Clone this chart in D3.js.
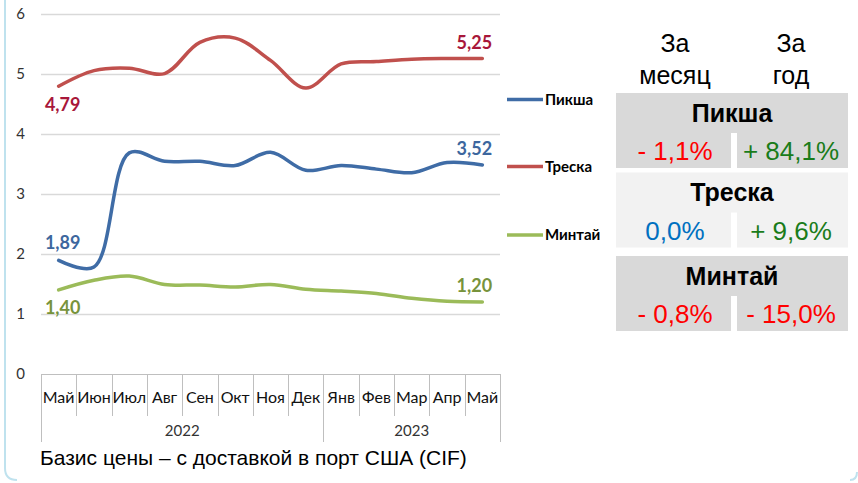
<!DOCTYPE html>
<html>
<head>
<meta charset="utf-8">
<script src="https://cdn.jsdelivr.net/npm/d3@7"></script>
<style>
body { margin: 0; background: #fff; }
svg { display: block; }
</style>
</head>
<body>
<div class="chart"></div>
<script>
// months on the x axis, grouped by year
var months = ["Май","Июн","Июл","Авг","Сен","Окт","Ноя","Дек","Янв","Фев","Мар","Апр","Май"];
var years = ["2022", "2023"];
var yearStart = [0, 8];
var yTicks = [0, 1, 2, 3, 4, 5, 6];

// prices, USD per kg
var seriesNames = ["Пикша", "Треска", "Минтай"];
var haddock = [1.89, 1.78, 3.68, 3.54, 3.54, 3.47, 3.69, 3.39, 3.47, 3.41, 3.35, 3.52, 3.48];
var cod     = [4.79, 5.05, 5.09, 5.00, 5.52, 5.59, 5.22, 4.76, 5.16, 5.20, 5.24, 5.25, 5.25];
var pollock = [1.40, 1.56, 1.63, 1.49, 1.48, 1.45, 1.49, 1.41, 1.38, 1.34, 1.26, 1.21, 1.20];
var startLabels = [1.89, 4.79, 1.40];
var endLabels = [3.52, 5.25, 1.20];

// change table, percent
var monthChange = [-1.1, 0.0, -0.8];
var yearChange = [84.1, 9.6, -15.0];

var width = 858, height = 483;
var lineColors = ["#3f6ca6", "#c0504d", "#9bbb59"];
var labelColors = ["#3d679e", "#a8173a", "#77933c"];
var labelSide = [[-1, -1], [1, -1], [1, -1]]; // start / end: -1 above, 1 below

var svg = d3.select(".chart").append("svg")
	.attr("width", width)
	.attr("height", height);

// frame remnants
svg.append("path")
	.attr("d", "M5,0 L5,468 Q5,480 17,480")
	.attr("fill", "none")
	.attr("stroke", "#bfe2ee")
	.attr("stroke-width", 2);
svg.append("path")
	.attr("d", "M857,472 Q857,480 850,480")
	.attr("fill", "none")
	.attr("stroke", "#bfe2ee")
	.attr("stroke-width", 2);

var x = d3.scaleBand().domain(d3.range(months.length)).range([41, 500]);
var y = d3.scaleLinear().domain([0, 6]).range([374, 13.5]);
var cx = function(i) { return x(i) + x.bandwidth() / 2; };

// gridlines
svg.append("g").selectAll("line")
	.data(yTicks.filter(function(d) { return d > 0; }))
	.enter().append("line")
	.attr("x1", 41).attr("x2", 500)
	.attr("y1", function(d) { return Math.round(y(d)) + 0.5; })
	.attr("y2", function(d) { return Math.round(y(d)) + 0.5; })
	.attr("stroke", "#d9d9d9")
	.attr("stroke-width", 1.3);

// y axis labels
var yAxis = svg.append("g")
	.attr("transform", "translate(41,0)")
	.call(d3.axisLeft(y).tickValues(yTicks).tickSize(0).tickPadding(16).tickFormat(d3.format("d")));
yAxis.select(".domain").remove();
yAxis.selectAll("text")
	.attr("font-family", "Lato, sans-serif")
	.attr("font-size", "15px")
	.attr("fill", "#333");

// x axis: base line, separators, month and year labels
var xg = svg.append("g").attr("class", "xaxis");
xg.append("line")
	.attr("x1", 41).attr("x2", 500)
	.attr("y1", 374.5).attr("y2", 374.5)
	.attr("stroke", "#bfbfbf");
var bounds = d3.range(months.length + 1);
xg.selectAll("line.sep")
	.data(bounds)
	.enter().append("line")
	.attr("class", "sep")
	.attr("x1", function(i) { return Math.round(i < months.length ? x(i) : x.range()[1]) + 0.5; })
	.attr("x2", function(i) { return Math.round(i < months.length ? x(i) : x.range()[1]) + 0.5; })
	.attr("y1", 374)
	.attr("y2", function(i) { return (yearStart.indexOf(i) >= 0 || i === months.length) ? 442 : 416; })
	.attr("stroke", "#bfbfbf");
xg.selectAll("text.month")
	.data(months)
	.enter().append("text")
	.attr("class", "month")
	.attr("x", function(d, i) { return cx(i); })
	.attr("y", 397.5)
	.attr("dy", "0.35em")
	.attr("text-anchor", "middle")
	.attr("font-family", "Lato, sans-serif")
	.attr("font-size", "16px")
	.attr("fill", "#111")
	.text(function(d) { return d; });
xg.selectAll("text.year")
	.data(years)
	.enter().append("text")
	.attr("class", "year")
	.attr("x", function(d, i) {
		var a = x(yearStart[i]);
		var b = i + 1 < yearStart.length ? x(yearStart[i + 1]) : x.range()[1];
		return (a + b) / 2;
	})
	.attr("y", 430.5)
	.attr("dy", "0.35em")
	.attr("text-anchor", "middle")
	.attr("font-family", "Lato, sans-serif")
	.attr("font-size", "15px")
	.attr("fill", "#333")
	.text(function(d) { return d; });

// lines
var series = [haddock, cod, pollock];
var line = d3.line()
	.x(function(d, i) { return cx(i); })
	.y(function(d) { return y(d); })
	.curve(d3.curveCatmullRom.alpha(0.5));

svg.append("g").selectAll("path")
	.data(series)
	.enter().append("path")
	.attr("d", line)
	.attr("fill", "none")
	.attr("stroke", function(d, i) { return lineColors[i]; })
	.attr("stroke-width", 3.5)
	.attr("stroke-linecap", "round");

// data labels
var fmt = function(v) { return d3.format(".2f")(v).replace(".", ","); };
var labels = svg.append("g")
	.attr("font-family", "Lato, sans-serif")
	.attr("font-weight", "bold")
	.attr("font-size", "18px")
	.attr("text-anchor", "middle");
series.forEach(function(s, k) {
	var last = s.length - 1;
	labels.append("text")
		.attr("x", cx(0) + 4)
		.attr("y", y(s[0]) + labelSide[k][0] * 18)
		.attr("dy", "0.35em")
		.attr("fill", labelColors[k])
		.text(fmt(startLabels[k]));
	labels.append("text")
		.attr("x", cx(last) - 8)
		.attr("y", y(s[last]) + labelSide[k][1] * 16)
		.attr("dy", "0.35em")
		.attr("fill", labelColors[k])
		.text(fmt(endLabels[k]));
});

// legend
var legendY = [99.5, 166.5, 235];
var legend = svg.append("g").selectAll("g")
	.data(seriesNames)
	.enter().append("g")
	.attr("transform", function(d, i) { return "translate(507," + legendY[i] + ")"; });
legend.append("line")
	.attr("x1", 0).attr("x2", 36)
	.attr("stroke", function(d, i) { return lineColors[i]; })
	.attr("stroke-width", 3.5);
legend.append("text")
	.attr("x", 38)
	.attr("dy", "0.35em")
	.attr("font-family", "Lato, sans-serif")
	.attr("font-weight", "bold")
	.attr("font-size", "15px")
	.attr("fill", "#000")
	.text(function(d) { return d; });

// change table
var colX = [616, 737], colW = [115, 111];
var colCenter = [675, 791];
var blockTop = [93, 172.5, 256];
var blockFill = ["#d9d9d9", "#f2f2f2", "#d9d9d9"];
var headerH = 40, blockH = 75;

var head = svg.append("g")
	.attr("font-family", "'Liberation Sans', Arial, sans-serif")
	.attr("font-size", "25px")
	.attr("text-anchor", "middle")
	.attr("fill", "#000");
[["За", "месяц"], ["За", "год"]].forEach(function(lines, c) {
	lines.forEach(function(t, j) {
		head.append("text")
			.attr("x", colCenter[c])
			.attr("y", 43 + j * 32)
			.attr("dy", "0.35em")
			.text(t);
	});
});

var pctFmt = function(v) {
	var s = d3.format(".1f")(Math.abs(v)).replace(".", ",") + "%";
	if (v > 0) return "+ " + s;
	if (v < 0) return "- " + s;
	return s;
};
var pctColor = function(v) { return v > 0 ? "#1a7c1a" : (v < 0 ? "#ff0000" : "#0070c0"); };

var blocks = svg.append("g").selectAll("g")
	.data(seriesNames)
	.enter().append("g")
	.attr("transform", function(d, i) { return "translate(0," + blockTop[i] + ")"; });
blocks.append("rect")
	.attr("x", colX[0]).attr("y", 0)
	.attr("width", colX[1] + colW[1] - colX[0])
	.attr("height", headerH)
	.attr("fill", function(d, i) { return blockFill[i]; });
[0, 1].forEach(function(c) {
	blocks.append("rect")
		.attr("x", colX[c]).attr("y", headerH - 0.5)
		.attr("width", colW[c])
		.attr("height", blockH - headerH + 0.5)
		.attr("fill", function(d, i) { return blockFill[i]; });
});
blocks.append("text")
	.attr("x", (colX[0] + colX[1] + colW[1]) / 2)
	.attr("y", 20)
	.attr("dy", "0.35em")
	.attr("text-anchor", "middle")
	.attr("font-family", "'Liberation Sans', Arial, sans-serif")
	.attr("font-weight", "bold")
	.attr("font-size", "25px")
	.attr("fill", "#000")
	.text(function(d) { return d; });
blocks.append("text")
	.attr("x", colCenter[0])
	.attr("y", 58)
	.attr("dy", "0.35em")
	.attr("text-anchor", "middle")
	.attr("font-family", "'Liberation Sans', Arial, sans-serif")
	.attr("font-size", "26px")
	.attr("fill", function(d, i) { return pctColor(monthChange[i]); })
	.text(function(d, i) { return pctFmt(monthChange[i]); });
blocks.append("text")
	.attr("x", colCenter[1])
	.attr("y", 58)
	.attr("dy", "0.35em")
	.attr("text-anchor", "middle")
	.attr("font-family", "'Liberation Sans', Arial, sans-serif")
	.attr("font-size", "26px")
	.attr("fill", function(d, i) { return pctColor(yearChange[i]); })
	.text(function(d, i) { return pctFmt(yearChange[i]); });

// caption
svg.append("text")
	.attr("x", 40)
	.attr("y", 465)
	.attr("font-family", "'Liberation Sans', Arial, sans-serif")
	.attr("font-size", "21px")
	.attr("fill", "#000")
	.text("Базис цены – с доставкой в порт США (CIF)");
</script>
</body>
</html>
